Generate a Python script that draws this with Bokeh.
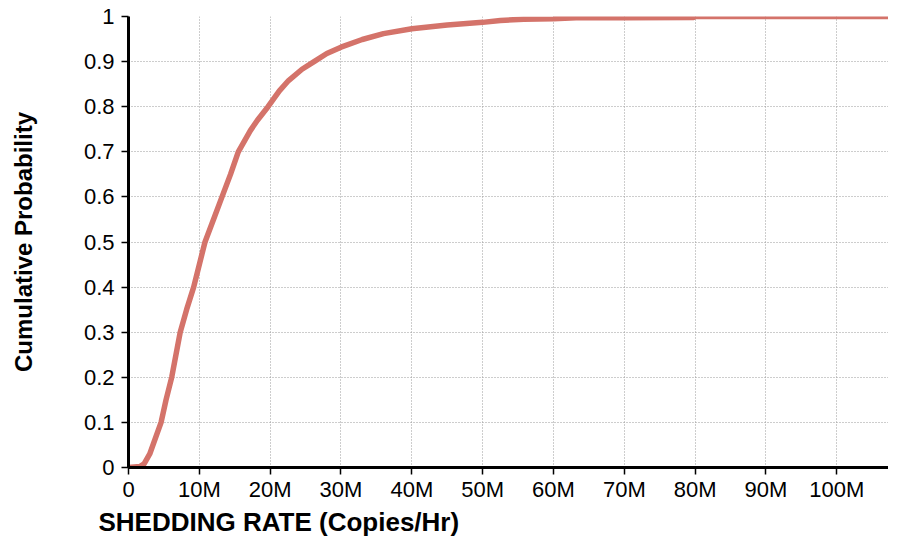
from bokeh.plotting import figure
from bokeh.models import FixedTicker, Range1d, Title
from bokeh.embed import file_html
from bokeh.resources import INLINE

# Shedding rate (millions of copies/hr) and cumulative probability
shed_rate_m = [0, 0.8, 1.6, 2.2, 3.0, 4.6, 5.3, 6.1, 7.3, 8.2, 9.2, 10.8, 12.0, 13.2, 14.4,
               15.5, 17.2, 18.2, 19.7, 21.3, 22.6, 24.5, 26.2, 28.0, 30.0, 33.0, 36.0,
               40.0, 45.0, 50.0, 52.5, 55.8, 60.0, 63.2, 70.0, 79.8, 80.0, 90.0, 100.0, 108.0]
cum_prob = [0, 0.001, 0.002, 0.008, 0.03, 0.10, 0.15, 0.20, 0.30, 0.35, 0.40, 0.50, 0.55, 0.60, 0.65,
            0.70, 0.747, 0.77, 0.80, 0.835, 0.858, 0.883, 0.90, 0.918, 0.932, 0.949, 0.962,
            0.973, 0.981, 0.987, 0.991, 0.994, 0.995, 0.997, 0.997, 0.998, 1.0, 1.0, 1.0, 1.0]

x_ticks = [0, 10, 20, 30, 40, 50, 60, 70, 80, 90, 100]
x_tick_labels = ["0", "10M", "20M", "30M", "40M", "50M", "60M", "70M", "80M", "90M", "100M"]
y_ticks = [0, 0.1, 0.2, 0.3, 0.4, 0.5, 0.6, 0.7, 0.8, 0.9, 1.0]
y_tick_labels = ["0", "0.1", "0.2", "0.3", "0.4", "0.5", "0.6", "0.7", "0.8", "0.9", "1"]

FONT = "Liberation Sans"

p = figure(width=888, height=536, output_backend="svg", toolbar_location=None,
           x_range=Range1d(0, 107.3), y_range=Range1d(0, 1),
           min_border_left=128, min_border_top=16, min_border_bottom=69, min_border_right=0)
p.outline_line_color = None
p.background_fill_color = "white"

p.line(shed_rate_m, cum_prob, line_color="#d4736a", line_width=5.5)

for ax in (p.xaxis, p.yaxis):
    ax.axis_line_width = 3
    ax.axis_line_color = "black"
    ax.major_tick_out = 7
    ax.major_tick_in = 0
    ax.major_tick_line_width = 1.5
    ax.major_tick_line_color = "black"
    ax.minor_tick_line_color = None
    ax.major_label_text_font = FONT
    ax.major_label_text_font_size = "22px"
    ax.major_label_text_color = "black"

p.xaxis.ticker = FixedTicker(ticks=x_ticks)
p.xaxis.major_label_overrides = {t: l for t, l in zip(x_ticks, x_tick_labels)}
p.xaxis.major_label_standoff = 2
p.yaxis.ticker = FixedTicker(ticks=y_ticks)
p.yaxis.major_label_overrides = {t: l for t, l in zip(y_ticks, y_tick_labels)}
p.yaxis.major_label_standoff = 7
p.yaxis.axis_label = "Cumulative Probability"
p.yaxis.axis_label_text_font = FONT
p.yaxis.axis_label_text_font_style = "bold"
p.yaxis.axis_label_text_font_size = "24px"
p.yaxis.axis_label_text_color = "black"
p.yaxis.axis_label_standoff = 44

for g in (p.xgrid, p.ygrid):
    g.grid_line_color = "#9a9a9a"
    g.grid_line_dash = "1 2"
    g.grid_line_width = 1

xtitle = Title(text="SHEDDING RATE (Copies/Hr)", align="left", offset=-30,
               text_font=FONT, text_font_style="bold", text_font_size="26px",
               text_color="black", standoff=0)
p.add_layout(xtitle, "below")

open("out.html", "w").write(file_html(p, INLINE))
